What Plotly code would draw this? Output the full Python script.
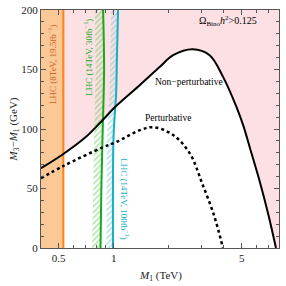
import numpy as np
import plotly.graph_objects as go

# ---- data ----
# Non-perturbative boundary (M1 in TeV, M3-M1 in GeV)
nonpert_x = [0.4, 0.53, 0.7, 0.87, 1.02, 1.39, 1.78, 2.11, 2.7, 3.34, 3.95, 4.67, 5.1, 5.6, 6.25, 7.0, 7.7]
nonpert_y = [67, 79, 93, 107.6, 118.7, 137, 152, 162, 167, 162, 144, 119, 103, 82, 57, 28, 0]
# Perturbative boundary
pert_x = [0.4, 0.53, 0.87, 1.03, 1.39, 1.65, 2.11, 2.6, 3.04, 3.55, 3.95]
pert_y = [58.6, 68.9, 84.6, 89, 99, 101.5, 95, 79.6, 54.4, 26.3, 0]
# LHC limits
lhc8_limit = 0.53
lhc14_30_x = [0.846, 0.855, 0.87, 0.885, 0.874]
lhc14_30_y = [0, 50, 100, 150, 200]
lhc14_100_x = [0.99, 0.995, 1.01, 1.03, 1.04, 1.055]
lhc14_100_y = [0, 90, 110, 130, 160, 200]

XMIN, XMAX = 0.4, 8.0
YMIN, YMAX = 0, 200

PINK = "rgb(253,224,228)"
ORANGE_FILL = "rgb(252,200,150)"
ORANGE = "rgb(255,130,20)"
GREEN = "rgb(20,170,30)"
GREEN_L = "rgb(100,200,80)"
CYAN = "rgb(20,175,195)"
CYAN_L = "rgb(100,195,210)"
FONT = "Liberation Serif"

fig = go.Figure()

# white allowed region below the non-perturbative curve
fig.add_trace(go.Scatter(x=nonpert_x, y=nonpert_y, mode="lines", line=dict(width=0, shape="spline"),
                         fill="tozeroy", fillcolor="white", hoverinfo="skip", showlegend=False))

# orange excluded band
fig.add_trace(go.Scatter(x=[XMIN, lhc8_limit, lhc8_limit, XMIN], y=[YMIN, YMIN, YMAX, YMAX],
                         mode="lines", line=dict(width=0), fill="toself", fillcolor=ORANGE_FILL,
                         hoverinfo="skip", showlegend=False))

# hatches (left side of each line)
def hatch(xs, ys, factor, color):
    hx = list(xs) + [v * factor for v in xs[::-1]]
    hy = list(ys) + list(ys[::-1])
    fig.add_trace(go.Scatter(x=hx, y=hy, mode="lines", line=dict(width=0), fill="toself",
                             fillcolor="rgba(0,0,0,0)",
                             fillpattern=dict(shape="/", fgcolor=color, size=4, solidity=0.4,
                                              fillmode="overlay"),
                             hoverinfo="skip", showlegend=False))

hatch(lhc14_30_x, lhc14_30_y, 0.90, GREEN_L)
hatch(lhc14_100_x, lhc14_100_y, 0.92, CYAN_L)

# LHC lines
fig.add_trace(go.Scatter(x=[lhc8_limit, lhc8_limit], y=[YMIN, YMAX], mode="lines",
                         line=dict(color=ORANGE, width=2), showlegend=False))
fig.add_trace(go.Scatter(x=lhc14_30_x, y=lhc14_30_y, mode="lines",
                         line=dict(color=GREEN, width=2, shape="spline"), showlegend=False))
fig.add_trace(go.Scatter(x=lhc14_100_x, y=lhc14_100_y, mode="lines",
                         line=dict(color=CYAN, width=2, shape="spline"), showlegend=False))

# boundaries
fig.add_trace(go.Scatter(x=pert_x, y=pert_y, mode="lines",
                         line=dict(color="black", width=2.5, dash="dot", shape="spline"), showlegend=False))
fig.add_trace(go.Scatter(x=nonpert_x, y=nonpert_y, mode="lines",
                         line=dict(color="black", width=2, shape="spline"), showlegend=False))

def ann(x, y, text, color="black", angle=0, size=9.5):
    fig.add_annotation(x=np.log10(x), y=y, xref="x", yref="y", text=text, showarrow=False,
                       textangle=angle, font=dict(family=FONT, size=size, color=color))

ann(10 ** -0.338, 154.6, "LHC (8TeV, 19.5fb<sup>−1</sup>)", color="rgb(200,100,30)", angle=-90, size=9)
ann(10 ** -0.142, 160.5, "LHC (14TeV, 30fb<sup>−1</sup>)", color=GREEN, angle=-90, size=9)
ann(10 ** 0.060, 41.2, "LHC (14TeV, 100fb<sup>−1</sup>)", color=CYAN, angle=90, size=9)
ann(10 ** 0.409, 139.5, "Non−perturbative")
ann(10 ** 0.295, 109, "Perturbative")
ann(10 ** 0.622, 190.8, "Ω<sub>Bino</sub><i>h</i><sup>2</sup>&gt;0.125", size=10)

# x-axis title
fig.add_annotation(x=0.5, y=-0.118, xref="paper", yref="paper", yanchor="middle",
                   text="<i>M</i><sub>1</sub> (TeV)", showarrow=False,
                   font=dict(family=FONT, size=11, color="#222"))

axis_common = dict(showgrid=False, zeroline=False, showline=True, linecolor="#555", linewidth=1,
                   mirror="ticks", ticks="inside", tickcolor="#555", ticklen=5, automargin=False,
                   tickfont=dict(family=FONT, size=11, color="#222"))

fig.update_xaxes(type="log", range=[np.log10(XMIN), np.log10(XMAX)],
                 tickvals=[0.5, 1, 5], ticktext=["0.5", "1", "5"],
                 minor=dict(tickvals=[0.4, 0.6, 0.7, 0.8, 0.9, 2, 3, 4, 6, 7, 8], ticks="inside",
                            ticklen=3, tickcolor="#555"),
                 **axis_common)
fig.update_yaxes(range=[YMIN, YMAX], tickvals=[0, 50, 100, 150, 200],
                 minor=dict(dtick=10, ticks="inside", ticklen=3, tickcolor="#555"),
                 title=dict(text="<i>M</i><sub>3</sub>−<i>M</i><sub>1</sub> (GeV)",
                            font=dict(family=FONT, size=11, color="#222"), standoff=0),
                 **axis_common)

fig.update_layout(width=286, height=286, margin=dict(l=41, r=7, t=10, b=38),
                  plot_bgcolor=PINK, paper_bgcolor="white", showlegend=False)

fig.write_html("out.html", config={"displayModeBar": False},
               post_script="document.body.style.margin='0px';")
